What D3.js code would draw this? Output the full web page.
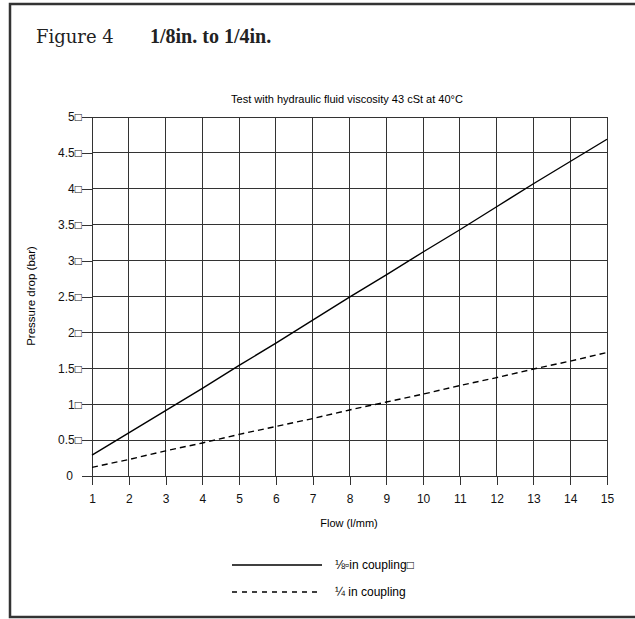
<!DOCTYPE html>
<html>
<head>
<meta charset="utf-8">
<script src="https://cdn.jsdelivr.net/npm/d3@7"></script>
<style>
  html, body { margin: 0; padding: 0; background: #fff; }
  svg { display: block; }
</style>
</head>
<body>
<div id="chart"></div>
<script>
// values
var flow = [1, 2, 3, 4, 5, 6, 7, 8, 9, 10, 11, 12, 13, 14, 15];
var eighthCoupling = [0.29, 0.60, 0.91, 1.22, 1.54, 1.85, 2.17, 2.49, 2.80, 3.12, 3.43, 3.75, 4.07, 4.38, 4.69];
var quarterCoupling = [0.12, 0.23, 0.35, 0.46, 0.58, 0.69, 0.80, 0.92, 1.03, 1.14, 1.26, 1.37, 1.49, 1.60, 1.72];
var yTicks = [0, 0.5, 1, 1.5, 2, 2.5, 3, 3.5, 4, 4.5, 5];
var xTicks = flow;
var seriesNames = ["\u215B\u25ABin coupling\u25A1", "\u00BC in coupling"];

var width = 635, height = 619;
var plotLeft = 92, plotRight = 607, plotTop = 117, plotBottom = 476;
var box = "\u25A1";
var sans = "'Liberation Sans', Arial, 'DejaVu Sans', sans-serif";

var svg = d3.select("#chart").append("svg")
  .attr("width", width)
  .attr("height", height);

// outer frame (right edge sits past the window)
svg.append("rect")
  .attr("x", 10).attr("y", 4)
  .attr("width", 640).attr("height", 613)
  .attr("fill", "none")
  .attr("stroke", "#333")
  .attr("stroke-width", 2.5);

var title = svg.append("text")
  .attr("x", 36).attr("y", 43)
  .attr("font-family", "'DejaVu Serif', 'Liberation Serif', serif")
  .attr("font-size", 18)
  .attr("fill", "#222");
title.append("tspan").text("Figure 4");
title.append("tspan").attr("x", 150)
  .attr("font-family", "'Liberation Serif', serif")
  .attr("font-weight", "bold").attr("font-size", 20).text("1/8in. to 1/4in.");

svg.append("text")
  .attr("x", 347).attr("y", 103)
  .attr("text-anchor", "middle")
  .attr("font-family", sans)
  .attr("font-size", 11)
  .text("Test with hydraulic fluid viscosity 43 cSt at 40\u00B0C");

var x = d3.scaleLinear().domain([1, 15]).range([plotLeft, plotRight]);
var y = d3.scaleLinear().domain([0, 5]).range([plotBottom, plotTop]);

// grid
var grid = svg.append("g").attr("stroke", "#333").attr("stroke-width", 1).attr("shape-rendering", "crispEdges");
grid.selectAll(".gx").data(xTicks).enter().append("line")
  .attr("x1", function (d) { return x(d); }).attr("x2", function (d) { return x(d); })
  .attr("y1", plotTop).attr("y2", plotBottom);
grid.selectAll(".gy").data(yTicks).enter().append("line")
  .attr("x1", plotLeft).attr("x2", plotRight)
  .attr("y1", function (d) { return y(d); }).attr("y2", function (d) { return y(d); });

// axes
var xAxis = svg.append("g")
  .attr("transform", "translate(0," + plotBottom + ")")
  .call(d3.axisBottom(x).tickValues(xTicks).tickSize(9).tickPadding(9).tickFormat(d3.format("d")));
var yAxis = svg.append("g")
  .attr("transform", "translate(" + plotLeft + ",0)")
  .call(d3.axisLeft(y).tickValues(yTicks).tickSize(10).tickPadding(0)
    .tickFormat(function (d) { return d === 0 ? "0" : d + box; }));

[xAxis, yAxis].forEach(function (a) {
  a.select(".domain").remove();
  a.selectAll("line").attr("stroke", "#333").attr("shape-rendering", "crispEdges");
  a.selectAll("text").attr("font-family", sans).attr("font-size", 12).attr("fill", "#111");
});
yAxis.selectAll("text").filter(function (d) { return d === 0; }).attr("dx", -9);

svg.append("text")
  .attr("x", 349).attr("y", 527)
  .attr("text-anchor", "middle")
  .attr("font-family", sans)
  .attr("font-size", 11)
  .text("Flow (l/mm)");

svg.append("text")
  .attr("transform", "translate(35,296) rotate(-90)")
  .attr("text-anchor", "middle")
  .attr("font-family", sans)
  .attr("font-size", 11.5)
  .text("Pressure drop (bar)");

// lines
var line = d3.line()
  .x(function (d) { return x(d[0]); })
  .y(function (d) { return y(d[1]); });
var dashes = [null, "6,4"];

[eighthCoupling, quarterCoupling].forEach(function (vals, i) {
  svg.append("path")
    .datum(d3.zip(flow, vals))
    .attr("d", line)
    .attr("fill", "none")
    .attr("stroke", "#000")
    .attr("stroke-width", 1.4)
    .attr("stroke-dasharray", dashes[i]);
});

// legend
var legend = svg.append("g");
seriesNames.forEach(function (name, i) {
  var ly = 565 + i * 27;
  legend.append("line")
    .attr("x1", 232).attr("x2", 322)
    .attr("y1", ly).attr("y2", ly)
    .attr("stroke", "#000")
    .attr("stroke-width", 1.4)
    .attr("stroke-dasharray", i ? "5,5" : null);
  legend.append("text")
    .attr("x", 335).attr("y", ly + 4)
    .attr("font-family", sans)
    .attr("font-size", 12)
    .text(name);
});
</script>
</body>
</html>
